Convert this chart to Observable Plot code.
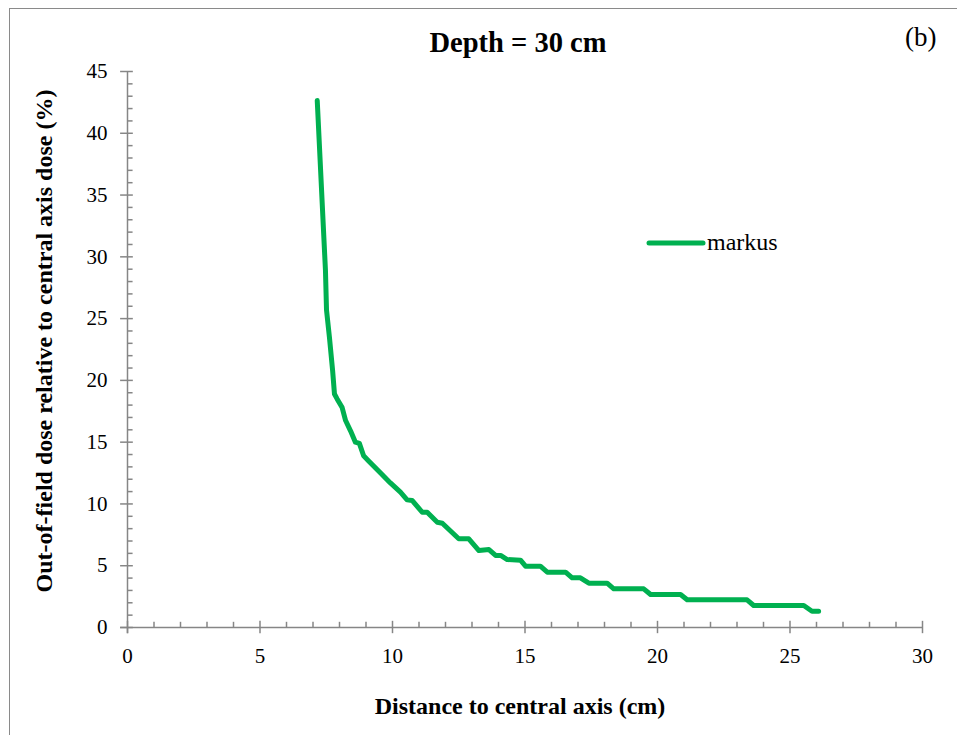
<!DOCTYPE html>
<html>
<head>
<meta charset="utf-8">
<script src="https://cdn.jsdelivr.net/npm/d3@7"></script>
<script src="https://cdn.jsdelivr.net/npm/@observablehq/plot@0.6"></script>
<style>
  html, body { margin: 0; padding: 0; background: #fff; overflow: hidden; }
  #wrap { position: relative; width: 957px; height: 735px; font-family: "Liberation Serif", Tinos, "Times New Roman", Times, "DejaVu Serif", serif; color: #000; }
  #frame { position: absolute; left: 9px; top: 8px; width: 2000px; height: 2000px; border-left: 1.5px solid #8a8a8a; border-top: 1.5px solid #8a8a8a; box-sizing: border-box; }
  #chart { position: absolute; left: 0; top: 0; }
  .title { position: absolute; left: 518px; top: 27px; transform: translateX(-50%); font-size: 28.5px; font-weight: bold; white-space: nowrap; line-height: 1.15; }
  .panel { position: absolute; left: 905px; top: 22px; font-size: 27px; white-space: nowrap; line-height: 1.15; }
  .xlabel { position: absolute; left: 520px; top: 693px; transform: translateX(-50%); font-size: 24px; font-weight: bold; white-space: nowrap; line-height: 1.15; }
  .ylabel { position: absolute; left: 45px; top: 341px; transform: translate(-50%, -50%) rotate(-90deg); font-size: 24px; font-weight: bold; white-space: nowrap; line-height: 1.15; }
  .legend { position: absolute; left: 645px; top: 229px; display: flex; align-items: center; font-size: 24px; white-space: nowrap; line-height: 1.15; }
</style>
</head>
<body>
<div id="wrap">
  <div id="frame"></div>
  <div id="chart"></div>
  <div class="title">Depth = 30 cm</div>
  <div class="panel">(b)</div>
  <div class="xlabel">Distance to central axis (cm)</div>
  <div class="ylabel">Out-of-field dose relative to central axis dose (%)</div>
  <div class="legend"><svg width="62" height="12"><line x1="4" y1="6" x2="58" y2="6" stroke="#00B050" stroke-width="5" stroke-linecap="round"/></svg><span>markus</span></div>
</div>
<script>
const seriesName = "markus";
const distance = [7.16, 7.47, 7.51, 7.62, 7.74, 7.81, 7.91, 8.10, 8.23, 8.42, 8.60, 8.75, 8.91, 9.09, 9.55, 9.92, 10.30, 10.55, 10.74, 11.12, 11.31, 11.69, 11.88, 12.50, 12.88, 13.26, 13.64, 13.89, 14.08, 14.33, 14.83, 15.02, 15.58, 15.84, 16.53, 16.78, 17.09, 17.41, 18.10, 18.35, 19.48, 19.74, 20.87, 21.12, 23.38, 23.63, 25.52, 25.83, 26.08];
const dose = [42.65, 28.9, 25.7, 23.5, 20.8, 18.9, 18.5, 17.8, 16.75, 15.9, 15.0, 14.9, 13.9, 13.5, 12.5, 11.7, 10.95, 10.33, 10.28, 9.33, 9.33, 8.52, 8.44, 7.18, 7.18, 6.23, 6.31, 5.83, 5.83, 5.50, 5.45, 4.96, 4.96, 4.48, 4.48, 4.02, 4.02, 3.59, 3.59, 3.13, 3.13, 2.67, 2.67, 2.24, 2.24, 1.78, 1.78, 1.32, 1.32];
const xTicks = [0, 5, 10, 15, 20, 25, 30];
const yTicks = [0, 5, 10, 15, 20, 25, 30, 35, 40, 45];
const xMinor = d3.range(0, 31, 1).filter(v => v % 5 !== 0);
const yMinor = d3.range(0, 46, 1).filter(v => v % 5 !== 0);

const points = distance.map((d, i) => ({x: d, y: dose[i]}));
const axisColor = "#868686";
const serif = "'Liberation Serif', Tinos, 'Times New Roman', Times, 'DejaVu Serif', serif";

const chart = Plot.plot({
  width: 957,
  height: 735,
  marginLeft: 127,
  marginRight: 35,
  marginTop: 71,
  marginBottom: 108,
  x: {domain: [0, 30]},
  y: {domain: [0, 45]},
  style: {fontFamily: serif, fontSize: "20px", color: "#000", background: "transparent", overflow: "visible"},
  marks: [
    Plot.ruleY([0], {stroke: axisColor, strokeWidth: 1.5, x1: -0.26, x2: 30}),
    Plot.ruleX([0], {stroke: axisColor, strokeWidth: 1.5, y1: -0.5, y2: 45}),
    Plot.ruleX(xTicks, {x: d => d, y1: -0.5, y2: 0.5, stroke: axisColor, strokeWidth: 1.5}),
    Plot.ruleX(xMinor, {x: d => d, y1: 0, y2: 0.42, stroke: axisColor, strokeWidth: 1.5}),
    Plot.ruleY(yTicks, {y: d => d, x1: -0.26, x2: 0.22, stroke: axisColor, strokeWidth: 1.5}),
    Plot.ruleY(yMinor, {y: d => d, x1: 0, x2: 0.21, stroke: axisColor, strokeWidth: 1.5}),
    Plot.axisX(xTicks, {tickSize: 0, tickPadding: 21, label: null, fontSize: 21, fontFamily: serif}),
    Plot.axisY(yTicks, {tickSize: 0, tickPadding: 20, label: null, fontSize: 21, fontFamily: serif}),
    Plot.line(points, {x: "x", y: "y", stroke: "#00B050", strokeWidth: 5, strokeLinecap: "round", strokeLinejoin: "round", curve: "linear"})
  ]
});
document.getElementById("chart").appendChild(chart);
</script>
</body>
</html>
